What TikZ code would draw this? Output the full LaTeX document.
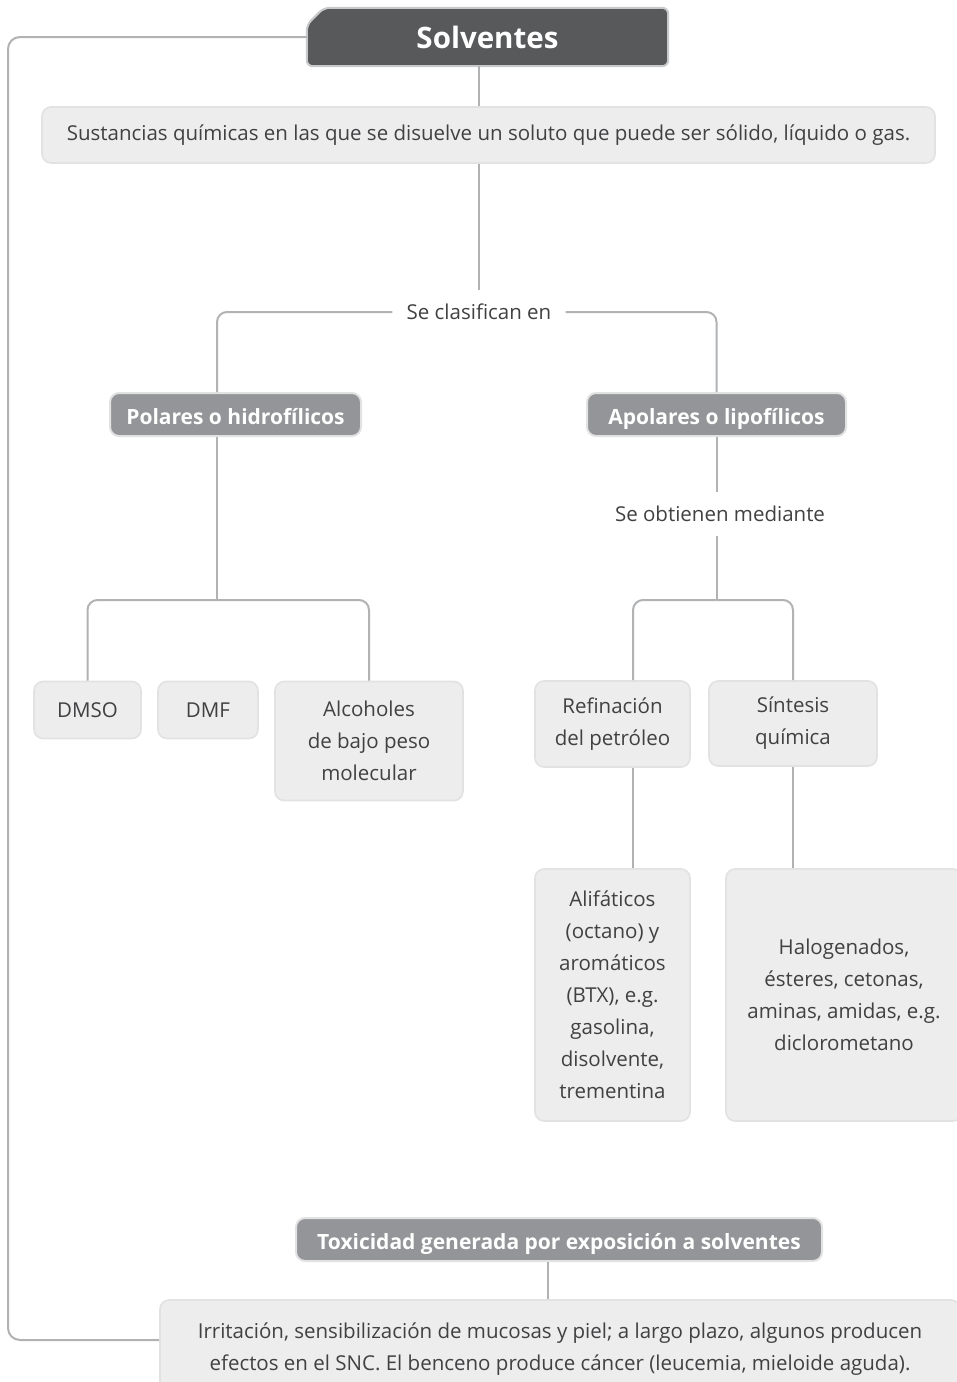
\documentclass[tikz,border=0pt]{standalone}
\usepackage{fontspec}
\setmainfont{Open Sans}
\usetikzlibrary{positioning,backgrounds}

\definecolor{boxgray}{HTML}{EDEDED}
\definecolor{boxedge}{HTML}{E2E2E3}
\definecolor{headgray}{HTML}{939598}
\definecolor{titlegray}{HTML}{58595B}
\definecolor{linkgray}{HTML}{B1B2B4}
\definecolor{textgray}{HTML}{414042}

\begin{document}
\begin{tikzpicture}[x=1pt, y=-1pt,
    link/.style={draw=linkgray, line width=2pt, rounded corners=10pt},
    leafbox/.style={draw=boxedge, line width=1.6pt, fill=boxgray, rounded corners=9pt,
      text=textgray, font=\fontsize{20.5}{32}\selectfont, align=center, inner sep=0pt},
    headbox/.style={draw=boxedge, line width=2pt, fill=headgray, rounded corners=9pt,
      text=white, font=\fontsize{21}{24}\selectfont\bfseries, inner sep=0pt,
      text height=20pt, text depth=1pt},
    linktext/.style={text=textgray, font=\fontsize{20.5}{24}\selectfont, inner sep=14pt}
  ]
  \useasboundingbox (0,0) rectangle (957,1382);

  % Title
  \node (sol) [minimum width=361pt, minimum height=58pt, text=white,
    font=\fontsize{29.5}{30}\selectfont\bfseries] at (487.5,37) {Solventes};
  \begin{scope}[on background layer]
    \draw[draw=linkgray!70, line width=2pt, fill=titlegray, rounded corners=6pt]
      ([xshift=17pt]sol.north west) -- (sol.north east) -- (sol.south east)
      -- (sol.south west) -- ([yshift=-17pt]sol.north west) -- cycle;
  \end{scope}

  \node (desc) [leafbox, minimum width=893pt, minimum height=56pt] at (488.5,135)
    {Sustancias químicas en las que se disuelve un soluto que puede ser sólido, líquido o gas.};

  % Classification
  \node (clas) [linktext] at (479,312) {Se clasifican en};
  \node (pol) [headbox, minimum width=251pt, minimum height=43pt] at (235.5,414.5) {Polares o hidrofílicos};
  \node (apo) [headbox, minimum width=259pt, minimum height=43pt] at (716.5,414.5) {Apolares o lipofílicos};

  % Polar solvents
  \node (dmso) [leafbox, minimum width=107pt, minimum height=57pt] at (87.5,710) {DMSO};
  \node (dmf) [leafbox, minimum width=100pt, minimum height=57pt] at (208,710) {DMF};
  \node (alc) [leafbox, minimum width=188pt, minimum height=119pt] at (369,741)
    {Alcoholes\\de bajo peso\\molecular};

  % Apolar solvents
  \node (obt) [linktext] at (720,514) {Se obtienen mediante};
  \node (ref) [leafbox, minimum width=155pt, minimum height=86pt] at (612.5,724)
    {Refinación\\del petróleo};
  \node (sin) [leafbox, minimum width=168pt, minimum height=85pt] at (793,723.5)
    {Síntesis\\química};
  \node (ali) [leafbox, minimum width=155pt, minimum height=252pt] at (612.5,995)
    {Alifáticos\\(octano) y\\aromáticos\\(BTX), e.g.\\gasolina,\\disolvente,\\trementina};
  \node (hal) [leafbox, minimum width=236pt, minimum height=252pt] at (844,995)
    {Halogenados,\\ésteres, cetonas,\\aminas, amidas, e.g.\\diclorometano};

  % Toxicity
  \node (tox) [headbox, minimum width=526pt, minimum height=43pt] at (559,1239.5)
    {Toxicidad generada por exposición a solventes};
  \node (irr) [leafbox, minimum width=800pt, minimum height=98pt] at (560,1349)
    {Irritación, sensibilización de mucosas y piel; a largo plazo, algunos producen\\
     efectos en el SNC. El benceno produce cáncer (leucemia, mieloide aguda).};

  % Column positions of the connectors
  \coordinate (lft) at (8,0);
  \coordinate (split1) at (217,600);
  \coordinate (split2) at (716.5,600);
  \coordinate (colR) at (633,0);
  \coordinate (colT) at (548,0);

  \draw[link] (sol.south -| clas) -- (desc.north -| clas);
  \draw[link] (desc.south -| clas) -- (clas.north);
  \draw[link] (clas.west) -| (split1 |- pol.north);
  \draw[link] (clas.east) -| (apo.north);

  \draw[link] (split1 |- pol.south) -- (split1);
  \draw[link] (split1) -| (dmso.north);
  \draw[link] (split1) -| (alc.north);

  \draw[link] (apo.south) -- (apo.south |- obt.north);
  \draw[link] (apo.south |- obt.south) -- (split2);
  \draw[link] (split2) -| (ref.north -| colR);
  \draw[link] (split2) -| (sin.north);
  \draw[link] (ref.south -| colR) -- (ali.north -| colR);
  \draw[link] (sin.south) -- (hal.north -| sin.south);

  \draw[link] (tox.south -| colT) -- (irr.north -| colT);
  \draw[link, rounded corners=12pt] (sol.west) -| (lft |- 0,1340) -- (irr.west |- 0,1340);
\end{tikzpicture}
\end{document}
